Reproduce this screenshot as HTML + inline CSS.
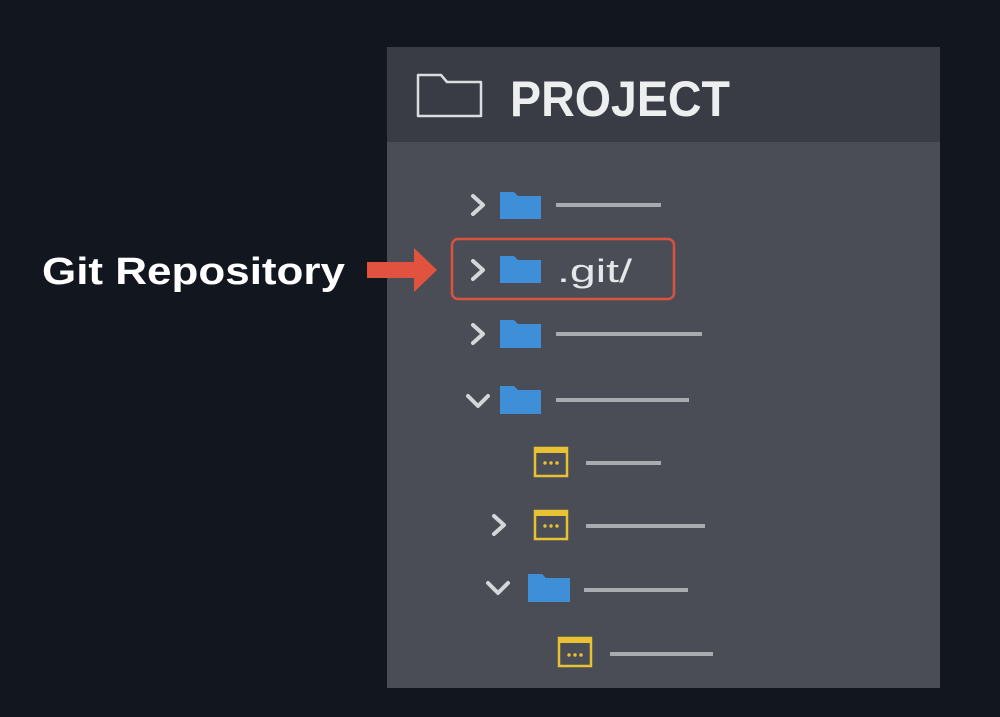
<!DOCTYPE html>
<html><head><meta charset="utf-8"><style>
html,body{margin:0;padding:0;background:#12161f;}
svg{display:block;}
</style></head><body>
<svg width="1000" height="717" viewBox="0 0 1000 717" xmlns="http://www.w3.org/2000/svg" font-family="Liberation Sans, sans-serif">
<rect width="1000" height="717" fill="#12161f"/>
<rect x="387" y="47" width="553" height="641" fill="#4a4d56"/>
<rect x="387" y="47" width="553" height="95" fill="#393c44"/>
<path d="M418 75 H441 L447 82 H481 V116 H418 Z" fill="none" stroke="#dcdde0" stroke-width="2.5" stroke-linejoin="round"/>
<text x="510" y="116" font-size="50" font-weight="bold" fill="#eceef0" textLength="220" lengthAdjust="spacingAndGlyphs">PROJECT</text>
<text x="42" y="284" font-size="38" font-weight="bold" fill="#ffffff" textLength="303" lengthAdjust="spacingAndGlyphs">Git Repository</text>
<path d="M367 262 H414 V248 L437 270 L414 292 V278 H367 Z" fill="#e2533f"/>
<rect x="452" y="239" width="222" height="60" rx="6" fill="none" stroke="#d9533f" stroke-width="2.5"/>
<g stroke="#d4d6da" stroke-width="4" fill="none" stroke-linecap="round" stroke-linejoin="round">
<path d="M473 196 L483 205 L473 214"/>
<path d="M473 261 L483 270 L473 279"/>
<path d="M473 325 L483 334 L473 343"/>
<path d="M468 396 L478 406 L488 396"/>
<path d="M494 516 L504 525 L494 534"/>
<path d="M488 583 L498 593 L508 583"/>
</g>
<g fill="#3f8fd8">
<path d="M500 192 H514 L518 196 H541 V219 H500 Z"/>
<path d="M500 256 H514 L518 260 H541 V283 H500 Z"/>
<path d="M500 320 H514 L518 324 H541 V348 H500 Z"/>
<path d="M500 386 H514 L518 390 H541 V414 H500 Z"/>
<path d="M528 574 H542 L546 578 H570 V602 H528 Z"/>
</g>
<text x="557" y="282" font-size="32" fill="#e4e6ea" textLength="75" lengthAdjust="spacingAndGlyphs">.git/</text>
<g stroke="#a9abb1" stroke-width="4">
<line x1="556" y1="205" x2="661" y2="205"/>
<line x1="556" y1="334" x2="702" y2="334"/>
<line x1="556" y1="400" x2="689" y2="400"/>
<line x1="586" y1="463" x2="661" y2="463"/>
<line x1="586" y1="526" x2="705" y2="526"/>
<line x1="584" y1="590" x2="688" y2="590"/>
<line x1="610" y1="654" x2="713" y2="654"/>
</g>
<g fill="none" stroke="#e8c232" stroke-width="2.5">
<rect x="535" y="448" width="32" height="28"/>
<rect x="535" y="511" width="32" height="28"/>
<rect x="559" y="638" width="32" height="28"/>
</g>
<g fill="#e8c232">
<rect x="535" y="448" width="32" height="5"/>
<rect x="535" y="511" width="32" height="5"/>
<rect x="559" y="638" width="32" height="5"/>
<circle cx="545" cy="463" r="1.7"/><circle cx="551" cy="463" r="1.7"/><circle cx="557" cy="463" r="1.7"/>
<circle cx="545" cy="526" r="1.7"/><circle cx="551" cy="526" r="1.7"/><circle cx="557" cy="526" r="1.7"/>
<circle cx="569" cy="655" r="1.7"/><circle cx="575" cy="655" r="1.7"/><circle cx="581" cy="655" r="1.7"/>
</g>
</svg>
</body></html>
